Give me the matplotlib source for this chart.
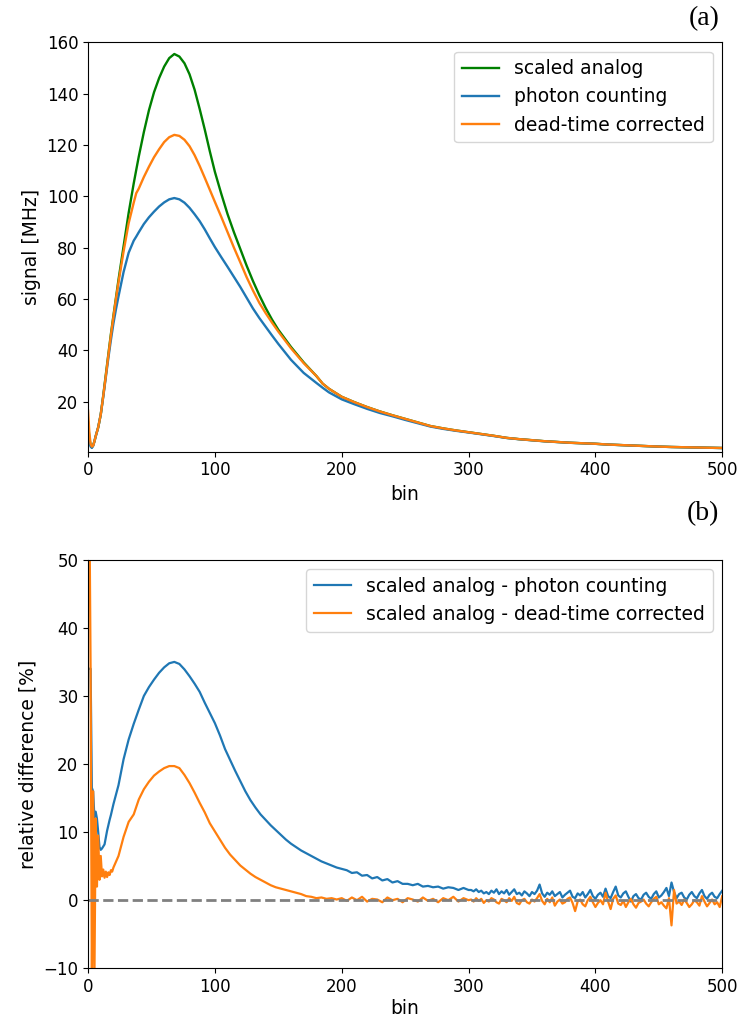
import numpy as np
import matplotlib
matplotlib.use("Agg")
import matplotlib.pyplot as plt

# ---- panel (a): signals vs bin ----
sig_bins = [0, 1, 2, 3, 4, 5, 6, 8, 10, 12, 14, 16, 18, 20, 22, 24, 28, 32, 36, 38, 40,
            44, 48, 52, 56, 60, 64, 68, 72, 76, 80, 84, 88, 92, 96, 100, 105, 110, 115,
            120, 125, 130, 135, 140, 145, 150, 160, 170, 180, 185, 190, 200, 210, 220,
            230, 240, 250, 260, 270, 280, 290, 300, 310, 320, 330, 340, 350, 360, 370,
            380, 390, 400, 410, 420, 430, 440, 450, 460, 470, 480, 490, 500]
analog = [12, 6, 3, 2.2, 3, 4.5, 6.5, 10, 15, 22.5, 30.5, 38.5, 46.3, 53.5, 60.5, 67.5,
          80.5, 93.5, 105, 110.3, 115.5, 125, 133.5, 140.5, 146, 150.5, 153.8, 155.4, 154.4,
          151.8, 147.5, 141.5, 134, 126, 117.5, 109.5, 101, 93, 86, 79.5, 73, 67, 61.5, 56.5,
          52, 48, 41.3, 35.3, 30, 27, 25, 21.9, 19.8, 17.9, 16.2, 14.7, 13.3, 11.9, 10.5,
          9.6, 8.8, 8.1, 7.4, 6.7, 5.9, 5.4, 5.0, 4.6, 4.3, 4.0, 3.8, 3.6, 3.3, 3.1, 2.9,
          2.7, 2.5, 2.35, 2.25, 2.15, 2.05, 1.95]
photon = [5, 5, 2.5, 2, 2.8, 4.5, 6.5, 10, 15, 22, 29.5, 37, 44, 50.5, 56, 61, 70.5, 78,
          82.7, 84.3, 86, 89.2, 91.8, 94.0, 96.0, 97.6, 98.8, 99.3, 98.8, 97.5, 95.5, 93,
          90.3, 87.1, 83.6, 80.2, 76.3, 72.5, 68.6, 64.7, 60.5, 56.3, 52.6, 49.2, 45.8,
          42.5, 36.3, 31.2, 27.3, 25.4, 23.6, 20.9, 19.0, 17.2, 15.6, 14.3, 12.9, 11.6,
          10.3, 9.4, 8.65, 8.0, 7.3, 6.6, 5.85, 5.35, 4.95, 4.55, 4.27, 3.98, 3.78, 3.58,
          3.28, 3.08, 2.88, 2.69, 2.49, 2.34, 2.24, 2.14, 2.04, 1.94]
corrected = [16.5, 8, 3.5, 2.5, 2.8, 4.5, 6.5, 10, 15, 22.3, 30, 38, 45.8, 53, 60, 66.5,
             78.5, 89.5, 97.5, 101.2, 103, 107.5, 111.5, 115.2, 118.3, 121.1, 123.0,
             123.9, 123.5, 122, 119.5, 116, 111.8, 107.2, 102.5, 97.8, 92, 86, 80, 74.3,
             68.5, 63.3, 58.5, 54.5, 50.8, 47.3, 40.8, 35, 30, 27, 25, 21.9, 19.8, 17.9, 16.2,
             14.7, 13.3, 11.9, 10.5, 9.6, 8.8, 8.1, 7.4, 6.7, 5.9, 5.4, 5.0, 4.6, 4.3, 4.0,
             3.8, 3.6, 3.3, 3.1, 2.9, 2.7, 2.5, 2.35, 2.25, 2.15, 2.05, 1.95]

# ---- panel (b): relative difference [%] ----
rd_bins = list(range(1, 21)) + list(range(24, 301, 4)) + list(range(302, 501, 2))
rd_photon = [34, 34, 16.5, 16, 12.2, 13, 12, 10, 7.8, 7.4, 7.6, 7.9, 8.2, 9.2, 10.2, 11,
             11.8, 12.5, 13.3, 14.1,
             # 24 .. 300, step 4
             16.9, 20.7, 23.6, 25.9, 28.0, 30.0, 31.3, 32.4, 33.4, 34.2, 34.8, 35.0, 34.7,
             33.9, 32.9, 31.8, 30.6, 29.0, 27.5, 26.0, 24.2, 22.2, 20.6, 19.0, 17.5, 16.0,
             14.7, 13.6, 12.6, 11.8, 11.0, 10.3, 9.6, 8.9, 8.3, 7.8, 7.3, 6.9, 6.5, 6.1,
             5.7, 5.4, 5.1, 4.8, 4.6, 4.4, 4.0, 4.1, 3.6, 3.7, 3.2, 3.4, 2.9, 3.1, 2.6, 2.8,
             2.4, 2.4, 2.2, 2.4, 2.0, 2.1, 1.9, 2.0, 1.7, 1.9, 1.8, 1.5, 1.8, 1.5,
             # 302 .. 500, step 2
             1.5, 1.3, 1.6, 1.2, 1.4, 1.0, 1.2, 0.9, 1.4, 1.1,
             1.6, 0.9, 1.3, 1.0, 1.5, 0.8, 1.2, 1.6, 0.9, 1.1,
             0.7, 1.3, 1.0, 0.6, 1.2, 0.9, 1.4, 2.3, 1.0, 0.5,
             1.1, 0.8, 1.3, 0.6, 0.9, 1.2, 0.4, 0.8, 1.1, 1.4,
             0.5, 0.3, 1.0, 0.7, 1.2, 0.4, 0.9, 1.5, 0.6, 0.2,
             0.8, 1.1, 0.5, 1.7, 0.6, 0.3, 1.2, 2.0, 0.7, 0.4,
             1.0, 1.3, 0.5, -0.2, 0.6, 0.9, 0.3, 0.1, 0.8, 1.1,
             0.5, 0.2, 0.9, 1.3, 0.4, 0.7, 1.2, 1.8, 0.6, 2.6,
             1.2, 0.3, 0.9, 1.1, 0.4, 0.1, 0.8, 1.2, 0.6, 0.3,
             1.0, 1.5, 0.6, 0.2, 0.8, 1.1, 0.5, 0.3, 0.9, 1.4]
rd_corrected = [60, 34, -12, 16, -12, 12, 2, 9.5, 3, 6.5, 3.5, 4.5, 3.3, 4.2, 3.4, 4.1,
                3.7, 4.4, 4.2, 4.8,
                # 24 .. 300, step 4
                6.5, 9.3, 11.5, 12.6, 14.8, 16.3, 17.4, 18.3, 18.9, 19.4, 19.7, 19.7,
                19.4, 18.4, 17.2, 15.8, 14.3, 12.9, 11.3, 10.1, 8.9, 7.7, 6.7, 5.9, 5.1,
                4.5, 3.9, 3.4, 3.0, 2.6, 2.2, 1.9, 1.7, 1.5, 1.3, 1.1, 0.9, 0.6, 0.5,
                0.3, 0.4, 0.2, 0.3, 0.1, 0.3, -0.1, 0.4, 0.0, 0.5, -0.2, 0.2, 0.1, -0.3,
                0.4, 0.0, 0.2, -0.3, 0.3, 0.1, -0.2, 0.4, -0.1, 0.2, -0.3, 0.3, 0.0, 0.5,
                -0.2, 0.3, 0.0,
                # 302 .. 500, step 2
                0.1, -0.2, 0.3, -0.1, 0.2, -0.4, 0.0, -0.2, 0.3, 0.1,
                -0.3, -0.5, 0.2, 0.0, -0.3, 0.3, -0.1, 0.5, -0.4, -0.6,
                0.0, 0.2, -0.3, -0.5, 0.1, -0.2, 0.3, 0.9, -0.1, -0.6,
                0.2, -0.3, 0.4, -0.8, -0.2, 0.1, -0.5, -0.3, 0.2, 0.4,
                -0.4, -1.6, -0.2, 0.1, -0.6, -0.9, 0.0, 0.5, -0.3, -1.0,
                -0.4, 0.0, -0.6, 1.1, -0.2, -1.3, 0.2, 0.7, -0.5, -0.7,
                -0.1, -1.0, -0.3, 0.2, -0.6, -1.1, -0.4, -0.2, 0.1, -0.5,
                -0.9, -0.3, 0.2, 0.5, -0.6, -0.3, -0.8, -1.2, 0.3, -3.7,
                1.5, -0.5, -0.2, -0.7, 0.1, -0.4, -1.0, -0.6, 0.0, -0.3,
                -0.8, 0.6, -0.2, -0.9, -0.4, 0.1, -0.6, -0.3, -1.0, 0.6]

plt.rcParams['font.size'] = 12
plt.rcParams['axes.labelsize'] = 13.5
plt.rcParams['legend.fontsize'] = 13.5

fig = plt.figure(figsize=(7.4, 10.29), dpi=100)
ax1 = fig.add_axes([0.119, 0.561, 0.857, 0.398])
ax2 = fig.add_axes([0.119, 0.059, 0.857, 0.397])

ax1.plot(sig_bins, analog, color='green', lw=1.7, label='scaled analog')
ax1.plot(sig_bins, photon, color='C0', lw=1.7, label='photon counting')
ax1.plot(sig_bins, corrected, color='C1', lw=1.7, label='dead-time corrected')
ax1.set_xlim(0, 500)
ax1.set_ylim(0.5, 160)
ax1.set_yticks(np.arange(20, 161, 20))
ax1.set_xlabel('bin')
ax1.set_ylabel('signal [MHz]')
ax1.legend(loc='upper right')

ax2.plot(rd_bins, rd_photon, color='C0', lw=1.6, label='scaled analog - photon counting')
ax2.plot(rd_bins, rd_corrected, color='C1', lw=1.6,
         label='scaled analog - dead-time corrected')
ax2.axhline(0, color='gray', ls='--', lw=2)
ax2.set_xlim(0, 500)
ax2.set_ylim(-10, 50)
ax2.set_xlabel('bin', labelpad=2)
ax2.set_ylabel('relative difference [%]')
ax2.legend(loc='upper right')

fig.text(0.972, 0.982, '(a)', ha='right', va='center', fontsize=20,
         fontfamily='Liberation Serif')
fig.text(0.972, 0.501, '(b)', ha='right', va='center', fontsize=20,
         fontfamily='Liberation Serif')

fig.savefig('out.png', dpi=100)
